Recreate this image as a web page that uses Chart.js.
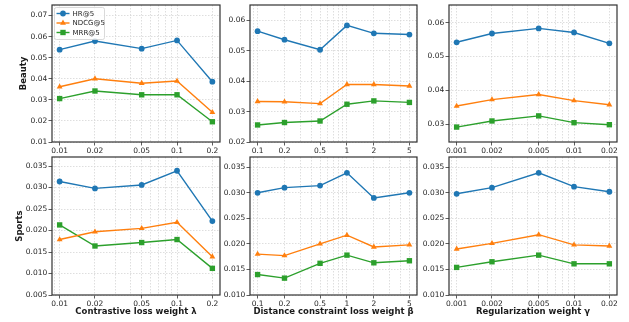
<!DOCTYPE html>
<html>
<head>
<meta charset="utf-8">
<script src="https://cdn.jsdelivr.net/npm/chart.js@4.4.0/dist/chart.umd.min.js"></script>
<style>
  body { margin: 0; background: #fff; width: 629px; height: 322px; position: relative; overflow: hidden; }
  canvas { position: absolute; }
</style>
</head>
<body>
<canvas id="c0"></canvas>
<canvas id="c1"></canvas>
<canvas id="c2"></canvas>
<canvas id="c3"></canvas>
<canvas id="c4"></canvas>
<canvas id="c5"></canvas>
<script>
// --- data ---
const metrics = ['HR@5', 'NDCG@5', 'MRR@5'];

const lambdaVals = [0.01, 0.02, 0.05, 0.1, 0.2];
const betaVals = [0.1, 0.2, 0.5, 1, 2, 5];
const gammaVals = [0.001, 0.002, 0.005, 0.01, 0.02];

// Beauty
const beautyLambdaHR   = [0.0538, 0.0579, 0.0543, 0.0582, 0.0386];
const beautyLambdaNDCG = [0.0362, 0.0400, 0.0379, 0.0389, 0.0241];
const beautyLambdaMRR  = [0.0306, 0.0342, 0.0324, 0.0324, 0.0196];
const beautyBetaHR   = [0.0564, 0.0536, 0.0503, 0.0583, 0.0557, 0.0553];
const beautyBetaNDCG = [0.0333, 0.0332, 0.0326, 0.0389, 0.0389, 0.0384];
const beautyBetaMRR  = [0.0256, 0.0264, 0.0269, 0.0324, 0.0335, 0.0330];
const beautyGammaHR   = [0.0542, 0.0568, 0.0583, 0.0571, 0.0539];
const beautyGammaNDCG = [0.0354, 0.0373, 0.0388, 0.0370, 0.0358];
const beautyGammaMRR  = [0.0292, 0.0310, 0.0325, 0.0305, 0.0299];

// Sports
const sportsLambdaHR   = [0.0314, 0.0298, 0.0306, 0.0339, 0.0222];
const sportsLambdaNDCG = [0.0179, 0.0197, 0.0205, 0.0219, 0.0139];
const sportsLambdaMRR  = [0.0213, 0.0164, 0.0172, 0.0179, 0.0112];
const sportsBetaHR   = [0.0300, 0.0310, 0.0314, 0.0339, 0.0290, 0.0300];
const sportsBetaNDCG = [0.0180, 0.0177, 0.0200, 0.0217, 0.0194, 0.0198];
const sportsBetaMRR  = [0.0140, 0.0133, 0.0162, 0.0178, 0.0163, 0.0167];
const sportsGammaHR   = [0.0298, 0.0310, 0.0339, 0.0312, 0.0302];
const sportsGammaNDCG = [0.0190, 0.0201, 0.0218, 0.0198, 0.0196];
const sportsGammaMRR  = [0.0154, 0.0165, 0.0178, 0.0161, 0.0161];

// y tick labels
const beautyLambdaTicks = [0.01, 0.02, 0.03, 0.04, 0.05, 0.06, 0.07];
const beautyBetaTicks   = [0.02, 0.03, 0.04, 0.05, 0.06];
const beautyGammaTicks  = [0.03, 0.04, 0.05, 0.06];
const sportsLambdaTicks = [0.005, 0.010, 0.015, 0.020, 0.025, 0.030, 0.035];
const sportsBetaTicks   = [0.010, 0.015, 0.020, 0.025, 0.030, 0.035];
const sportsGammaTicks  = [0.010, 0.015, 0.020, 0.025, 0.030, 0.035];

const xTitles = ['Contrastive loss weight λ', 'Distance constraint loss weight β', 'Regularization weight γ'];
const rowTitles = ['Beauty', 'Sports'];

// --- style ---
Chart.defaults.font.family = 'DejaVu Sans';
Chart.defaults.color = '#262626';

const colors = ['#1f77b4', '#ff7f0e', '#2ca02c'];
const markers = ['circle', 'triangle', 'rect'];
const markerRadius = [2.9, 3.4, 3.8];

// layout of the 2x3 grid (plot areas in page pixels)
const colLeft = [52, 250, 449];
const colPlotW = [168, 167, 168];
const colAxisW = [52, 46, 46];
const rowCanvasTop = [0, 150];
const rowPadTop = [5, 7];
const rowPlotH = [137, 138];
const rowAxisH = [14, 27];
const padRight = 8;

// minor log grid positions between min and max
function gridValues(min, max) {
  const out = [];
  for (let e = Math.floor(Math.log10(min)); e <= Math.ceil(Math.log10(max)); e++) {
    for (let m = 1; m < 10; m++) {
      const v = Number((m * Math.pow(10, e)).toPrecision(6));
      if (v >= min && v <= max) out.push(v);
    }
  }
  return out;
}

const framePlugin = {
  id: 'frame',
  afterDraw(chart) {
    const { ctx, chartArea: a } = chart;
    ctx.save();
    ctx.strokeStyle = '#333';
    ctx.lineWidth = 1.2;
    ctx.strokeRect(a.left, a.top, a.right - a.left, a.bottom - a.top);
    ctx.restore();
  }
};

const legendPlugin = {
  id: 'boxLegend',
  afterDraw(chart) {
    const { ctx, chartArea: a } = chart;
    const x0 = a.left + 2.5, y0 = a.top + 2.5, w = 50, h = 32;
    ctx.save();
    ctx.beginPath();
    ctx.roundRect(x0, y0, w, h, 2);
    ctx.fillStyle = 'rgba(255,255,255,0.85)';
    ctx.fill();
    ctx.strokeStyle = '#d0d0d0';
    ctx.lineWidth = 0.8;
    ctx.stroke();
    ctx.font = '7px "DejaVu Sans"';
    ctx.textBaseline = 'middle';
    chart.data.datasets.forEach((ds, i) => {
      const y = y0 + 6 + i * 9.5;
      ctx.strokeStyle = ds.borderColor;
      ctx.lineWidth = 1.4;
      ctx.beginPath();
      ctx.moveTo(x0 + 2, y);
      ctx.lineTo(x0 + 15, y);
      ctx.stroke();
      ctx.fillStyle = ds.borderColor;
      Chart.helpers.drawPoint(ctx, { pointStyle: ds.pointStyle, radius: ds.pointRadius, rotation: 0, borderWidth: 0 }, x0 + 8.5, y);
      ctx.fillStyle = '#262626';
      ctx.fillText(ds.label, x0 + 18, y + 0.5);
    });
    ctx.restore();
  }
};

const panels = [
  { row: 0, col: 0, x: lambdaVals, series: [beautyLambdaHR, beautyLambdaNDCG, beautyLambdaMRR], yTicks: beautyLambdaTicks, yMin: 0.01, yMax: 0.075, dec: 2, legend: true },
  { row: 0, col: 1, x: betaVals, series: [beautyBetaHR, beautyBetaNDCG, beautyBetaMRR], yTicks: beautyBetaTicks, yMin: 0.02, yMax: 0.065, dec: 2 },
  { row: 0, col: 2, x: gammaVals, series: [beautyGammaHR, beautyGammaNDCG, beautyGammaMRR], yTicks: beautyGammaTicks, yMin: 0.0248, yMax: 0.0652, dec: 2 },
  { row: 1, col: 0, x: lambdaVals, series: [sportsLambdaHR, sportsLambdaNDCG, sportsLambdaMRR], yTicks: sportsLambdaTicks, yMin: 0.005, yMax: 0.0371, dec: 3 },
  { row: 1, col: 1, x: betaVals, series: [sportsBetaHR, sportsBetaNDCG, sportsBetaMRR], yTicks: sportsBetaTicks, yMin: 0.010, yMax: 0.037, dec: 3 },
  { row: 1, col: 2, x: gammaVals, series: [sportsGammaHR, sportsGammaNDCG, sportsGammaMRR], yTicks: sportsGammaTicks, yMin: 0.010, yMax: 0.037, dec: 3 }
];

panels.forEach((p, idx) => {
  const cv = document.getElementById('c' + idx);
  const yw = colAxisW[p.col];
  const xh = rowAxisH[p.row];
  const cw = yw + colPlotW[p.col] + padRight;
  const ch = rowPadTop[p.row] + rowPlotH[p.row] + xh;
  cv.width = cw; cv.height = ch;
  cv.style.left = (colLeft[p.col] - yw) + 'px';
  cv.style.top = rowCanvasTop[p.row] + 'px';
  cv.style.width = cw + 'px'; cv.style.height = ch + 'px';

  const first = p.x[0], last = p.x[p.x.length - 1];
  const margin = Math.pow(last / first, 0.05);
  const xMin = first / margin, xMax = last * margin;
  const isLabel = v => p.x.some(x => Math.abs(x - v) < x * 1e-6);

  new Chart(cv, {
    type: 'line',
    data: {
      datasets: p.series.map((s, i) => ({
        label: metrics[i],
        data: p.x.map((x, j) => ({ x: x, y: s[j] })),
        borderColor: colors[i],
        backgroundColor: colors[i],
        borderWidth: 1.4,
        pointStyle: markers[i],
        pointRadius: markerRadius[i],
        pointBorderWidth: 0,
        pointBackgroundColor: colors[i],
        tension: 0
      }))
    },
    options: {
      responsive: false,
      animation: false,
      devicePixelRatio: 1,
      layout: { padding: { left: 0, right: padRight, top: rowPadTop[p.row], bottom: 0 } },
      plugins: { legend: { display: false }, tooltip: { enabled: false } },
      scales: {
        x: {
          type: 'logarithmic',
          min: xMin, max: xMax,
          afterBuildTicks: s => { s.ticks = gridValues(xMin, xMax).map(v => ({ value: v })); },
          afterFit: s => { s.height = xh; s.paddingLeft = 0; s.paddingRight = 0; },
          ticks: {
            autoSkip: false, maxRotation: 0, padding: 1,
            font: { size: 7.5 }, color: '#262626',
            callback: v => isLabel(v) ? String(v) : ''
          },
          grid: {
            color: '#d6d6d6', lineWidth: 0.8,
            tickLength: 3.5, tickWidth: 0.8,
            tickColor: ctx => isLabel(ctx.tick.value) ? '#333' : 'rgba(0,0,0,0)'
          },
          border: { display: false, dash: [1.5, 1.5] },
          title: {
            display: p.row === 1, text: xTitles[p.col],
            font: { size: 8.5, weight: 'bold' }, color: '#1a1a1a',
            padding: { top: 0, bottom: 5 }
          }
        },
        y: {
          min: p.yMin, max: p.yMax,
          afterBuildTicks: s => { s.ticks = p.yTicks.map(v => ({ value: v })); },
          afterFit: s => { s.width = yw; s.paddingTop = 0; s.paddingBottom = 0; },
          ticks: {
            padding: 1.2, font: { size: 7.5 }, color: '#262626',
            callback: v => v.toFixed(p.dec)
          },
          grid: { color: '#d6d6d6', lineWidth: 0.8, tickLength: 3.5, tickWidth: 0.8, tickColor: '#333' },
          border: { display: false, dash: [1.5, 1.5] },
          title: {
            display: p.col === 0, text: rowTitles[p.row],
            font: { size: 8.5, weight: 'bold' }, color: '#1a1a1a',
            padding: { top: p.row === 0 ? 18.4 : 14.9, bottom: 0 }
          }
        }
      }
    },
    plugins: p.legend ? [framePlugin, legendPlugin] : [framePlugin]
  });
});
</script>
</body>
</html>
